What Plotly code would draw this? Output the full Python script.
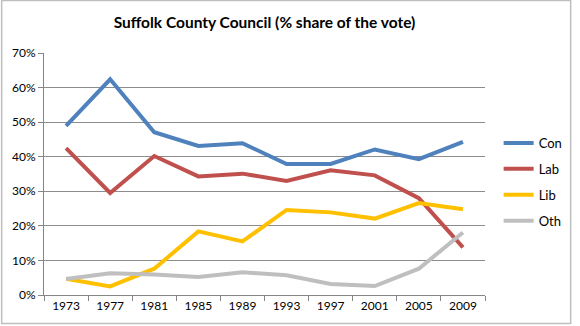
import plotly.graph_objects as go

years = ["1973", "1977", "1981", "1985", "1989", "1993", "1997", "2001", "2005", "2009"]
con = [48.9, 62.4, 47.1, 43.1, 43.9, 37.9, 37.9, 42.1, 39.3, 44.3]
lab = [42.5, 29.5, 40.2, 34.3, 35.1, 33.0, 36.1, 34.6, 28.0, 13.8]
lib = [4.7, 2.5, 7.6, 18.4, 15.5, 24.6, 23.9, 22.1, 26.6, 24.8]
oth = [4.6, 6.3, 5.9, 5.2, 6.6, 5.7, 3.2, 2.6, 7.6, 18.1]

series = [("Con", con, "#4F81BD"), ("Lab", lab, "#C0504D"),
          ("Lib", lib, "#FFC000"), ("Oth", oth, "#BFBFBF")]

fig = go.Figure()
for name, vals, color in series:
    fig.add_trace(go.Scatter(x=years, y=vals, name=name, mode="lines",
                             line=dict(color=color, width=4),
                             legendgroup=name))

L, R, T, B = 44, 83, 53, 31
W, H = 580, 326
pw, ph = W - L - R, H - T - B

fig.update_layout(
    width=W, height=H,
    margin=dict(l=L, r=R, t=T, b=B),
    paper_bgcolor="white", plot_bgcolor="white",
    font=dict(family="Lato, Open Sans, sans-serif", size=12, color="#000000"),
    title=dict(text="Suffolk County Council (% share of the vote)",
               x=0.5, xref="paper", xanchor="center",
               y=1 - 23 / H, yanchor="middle",
               font=dict(family="Lato", size=15.5, color="#000000", weight="bold")),
    showlegend=True,
    legend=dict(x=(511 - L) / pw, xanchor="left", y=(H - B - 182) / ph, yanchor="middle",
                font=dict(size=13, color="#000000"), traceorder="grouped",
                tracegroupgap=6, bgcolor="rgba(0,0,0,0)", itemwidth=30),
    xaxis=dict(type="category", range=[-0.5, 9.5], showgrid=False,
               showline=True, linecolor="#868686", linewidth=1,
               ticks="outside", tickson="boundaries", ticklen=5, tickcolor="#868686",
               tickfont=dict(size=12, color="#000000")),
    yaxis=dict(range=[0, 70], dtick=10, ticksuffix="%", showgrid=True,
               gridcolor="#8C8C8C", gridwidth=1, zeroline=False,
               showline=True, linecolor="#868686", linewidth=1,
               ticks="outside", ticklen=5, tickcolor="#868686",
               tickfont=dict(size=12, color="#000000")),
    shapes=[dict(type="rect", xref="paper", yref="paper",
                 x0=(0.5 - L) / pw, x1=(W + 5 - L) / pw,
                 y0=-(B - 2.5) / ph,
                 y1=1 + (T - 0.5) / ph,
                 line=dict(color="#BFBFBF", width=1.5), layer="below")],
)

fig.write_html("out.html")
